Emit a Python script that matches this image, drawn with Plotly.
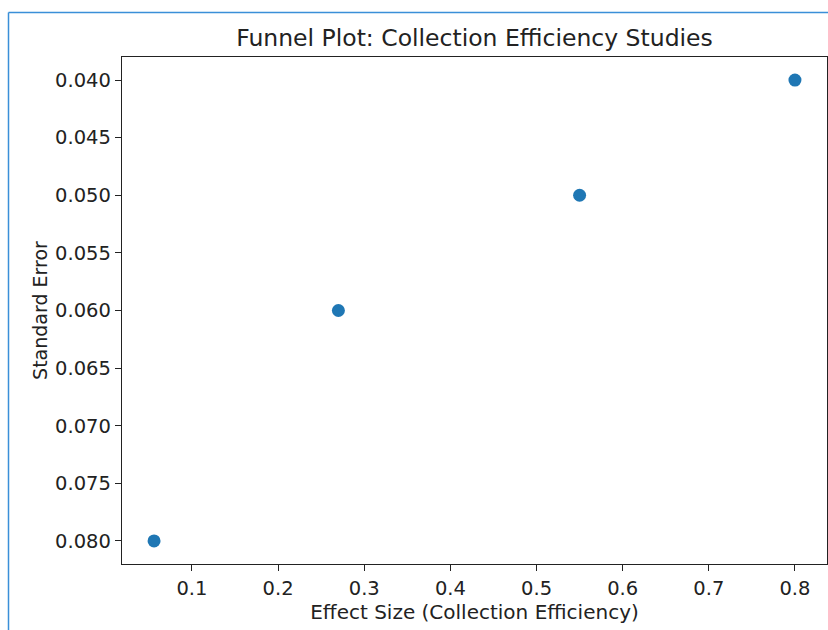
import plotly.graph_objects as go

# Data
effect_size = [0.056, 0.27, 0.55, 0.80]
standard_error = [0.080, 0.060, 0.050, 0.040]
x_ticks = [0.1, 0.2, 0.3, 0.4, 0.5, 0.6, 0.7, 0.8]
y_ticks = [0.040, 0.045, 0.050, 0.055, 0.060, 0.065, 0.070, 0.075, 0.080]

W, H = 828, 630
L, R, T, B = 122, 827, 57, 564

def px_x(p):
    return (p - L) / (R - L)

def px_y(p):
    return (B - p) / (B - T)

fig = go.Figure()
fig.add_trace(go.Scatter(
    x=effect_size, y=standard_error, mode="markers",
    marker=dict(color="#1f77b4", size=13),
    showlegend=False,
))

xpad = (max(effect_size) - min(effect_size)) * 0.05
ypad = (max(standard_error) - min(standard_error)) * 0.05

axis_common = dict(
    showline=True, linecolor="#222222", linewidth=1.4, mirror=True,
    ticks="outside", ticklen=6, tickwidth=1.3, tickcolor="#222222",
    showgrid=False, zeroline=False,
    tickfont=dict(family="DejaVu Sans", size=19.5, color="#222222"),
)

fig.update_layout(
    width=W, height=H,
    margin=dict(l=L, r=W - R, t=T, b=H - B),
    paper_bgcolor="white", plot_bgcolor="white",
    title=dict(text="Funnel Plot: Collection Efficiency Studies",
               x=(L + R) / 2 / W, xanchor="center",
               y=1 - 38 / H, yanchor="middle",
               font=dict(family="DejaVu Sans", size=23.5, color="#222222")),
    xaxis=dict(
        range=[min(effect_size) - xpad, max(effect_size) + xpad],
        tickvals=x_ticks, ticktext=[f"{v:.1f}" for v in x_ticks],
        title=dict(text="Effect Size (Collection Efficiency)",
                   font=dict(family="DejaVu Sans", size=20, color="#222222"),
                   standoff=2),
        **axis_common,
    ),
    yaxis=dict(
        range=[max(standard_error) + ypad, min(standard_error) - ypad],
        tickvals=y_ticks, ticktext=[f"{v:.3f}" for v in y_ticks],
        title=dict(text="Standard Error",
                   font=dict(family="DejaVu Sans", size=19, color="#222222"),
                   standoff=2),
        **axis_common,
    ),
    shapes=[
        dict(type="line", xref="paper", yref="paper",
             x0=px_x(8.5), x1=px_x(W), y0=px_y(12.5), y1=px_y(12.5),
             line=dict(color="#3a8fd8", width=1.5)),
        dict(type="line", xref="paper", yref="paper",
             x0=px_x(8.5), x1=px_x(8.5), y0=px_y(12.5), y1=px_y(H),
             line=dict(color="#3a8fd8", width=1.5)),
    ],
)

fig.write_html(
    "out.html",
    config={"displayModeBar": False},
    post_script="document.body.style.margin='0';document.body.style.overflow='hidden';",
)
